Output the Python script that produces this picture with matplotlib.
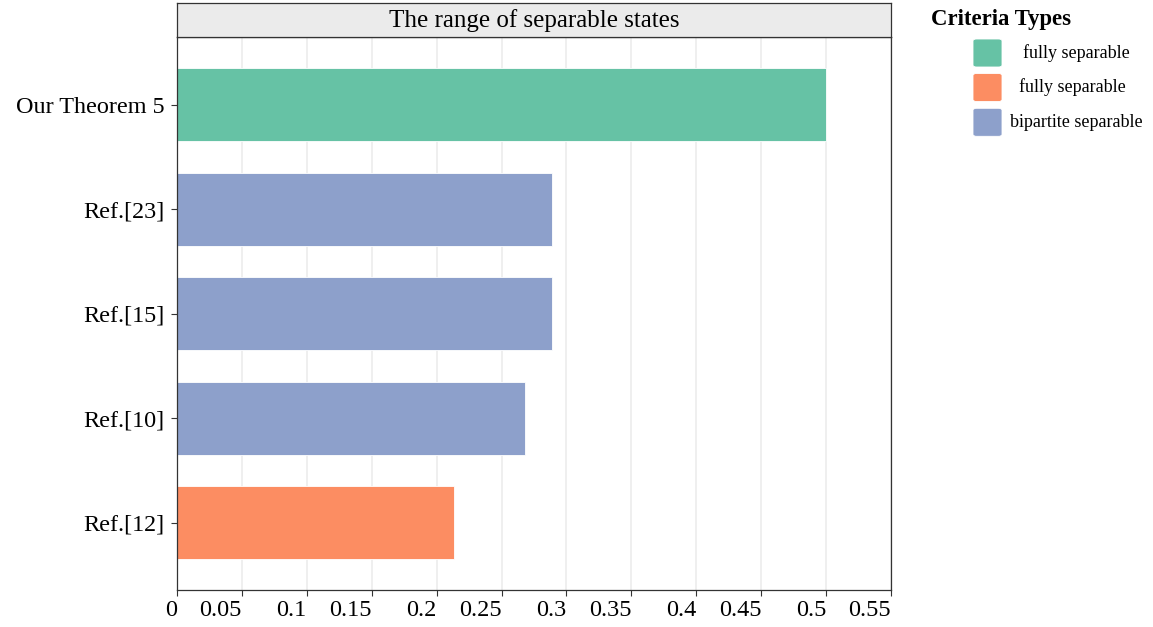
import matplotlib
matplotlib.use('Agg')
import matplotlib.pyplot as plt
from matplotlib.patches import FancyBboxPatch
from matplotlib.transforms import ScaledTranslation

# values (bottom to top)
categories = ['Ref.[12]', 'Ref.[10]', 'Ref.[15]', 'Ref.[23]', 'Our Theorem 5']
values = [0.2135, 0.2679, 0.2887, 0.2887, 0.5]
crit_type = ['fully separable', 'bipartite separable', 'bipartite separable',
             'bipartite separable', ' fully separable']

# legend order and Set2 colours
type_levels = [' fully separable', 'fully separable', 'bipartite separable']
type_colors = ['#66C2A5', '#FC8D62', '#8DA0CB']
color_map = dict(zip(type_levels, type_colors))

xticks = [0, 0.05, 0.1, 0.15, 0.2, 0.25, 0.3, 0.35, 0.4, 0.45, 0.5, 0.55]
xticklabels = ['0', '0.05', '0.1', '0.15', '0.2', '0.25', '0.3', '0.35', '0.4', '0.45', '0.5', '0.55']

plt.rcParams['font.family'] = ['Liberation Serif', 'DejaVu Serif']

W, H = 1153, 627
fig = plt.figure(figsize=(W / 100, H / 100), dpi=100)

left, right, top, bottom = 177, 891, 37.3, 590
ax = fig.add_axes([left / W, (H - bottom) / H, (right - left) / W, (bottom - top) / H])

ax.barh(categories, values, height=0.7,
        color=[color_map[t] for t in crit_type],
        edgecolor='white', linewidth=0.6, zorder=2)

ax.set_xlim(0, 0.55)
ax.set_ylim(-0.645, 4.645)
ax.set_xticks(xticks)
ax.set_xticklabels(xticklabels, ha='right')
# nudge the right-aligned x labels a little left of their ticks
shift = ScaledTranslation(-1.5 / 100, 0, fig.dpi_scale_trans)
for lbl in ax.get_xticklabels():
    lbl.set_transform(lbl.get_transform() + shift)
ax.grid(axis='x', color='#EBEBEB', linewidth=1.1, zorder=0)
ax.set_axisbelow(True)
for s in ['left', 'bottom', 'right', 'top']:
    ax.spines[s].set_color('#333333')
    ax.spines[s].set_linewidth(0.9)
ax.tick_params(axis='y', length=4.5, width=0.8, color='#333333', pad=4.5, labelsize=17.4)
ax.tick_params(axis='x', length=4.5, width=0.8, color='#333333', pad=3, labelsize=17.5)

# facet strip on top
strip_top = 3.3
sax = fig.add_axes([left / W, (H - top) / H, (right - left) / W, (top - strip_top) / H])
sax.set_facecolor('#EBEBEB')
sax.set_xticks([])
sax.set_yticks([])
for s in sax.spines.values():
    s.set_color('#333333')
    s.set_linewidth(0.9)
sax.text(0.5, 0.48, 'The range of separable states', ha='center', va='center',
         fontsize=18, transform=sax.transAxes)

# legend drawn by hand so the labels can be centred like the original
fig.text(931 / W, 1 - 20 / H, 'Criteria Types', fontsize=16.4, fontweight='bold',
         ha='left', va='center')
key_x, key_w, key_h = 973, 29, 28
key_y = [39, 73.5, 108.3]
label_x = [1076, 1072.3, 1076]
for lab, col, ky, lx in zip(type_levels, type_colors, key_y, label_x):
    box = FancyBboxPatch((key_x / W, 1 - (ky + key_h) / H), key_w / W, key_h / H,
                         boxstyle='round,pad=0,rounding_size=0.003',
                         transform=fig.transFigure, facecolor=col,
                         edgecolor='white', linewidth=0.6)
    fig.add_artist(box)
    fig.text(lx / W, 1 - (ky + key_h / 2) / H, lab.strip(), fontsize=13,
             ha='center', va='center')

fig.savefig('out.png', dpi=100)
